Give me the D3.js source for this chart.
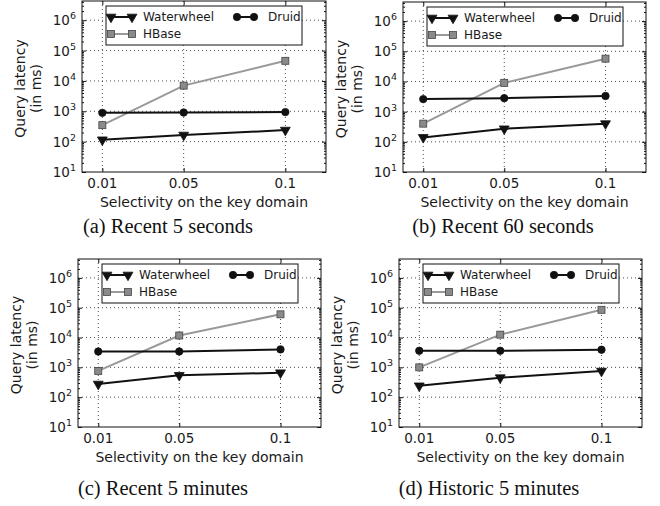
<!DOCTYPE html>
<html>
<head>
<meta charset="utf-8">
<script src="https://cdn.jsdelivr.net/npm/d3@7"></script>
<style>
  body { margin: 0; background: #fff; }
  svg text { font-family: "DejaVu Sans", sans-serif; fill: #1a1a1a; }
  .caption { font-family: "Liberation Serif", "Times New Roman", serif; font-size: 20.5px; fill: #111; }
</style>
</head>
<body>
<div id="chart"></div>
<script>
// data
var selectivity = [0.01, 0.05, 0.1];
var xTickLabels = ['0.01', '0.05', '0.1'];
var yExponents = [1, 2, 3, 4, 5, 6];
var seriesNames = ['Waterwheel', 'HBase', 'Druid'];
var captions = ['(a) Recent 5 seconds', '(b) Recent 60 seconds', '(c) Recent 5 minutes', '(d) Historic 5 minutes'];

var waterwheelRecent5s = [115, 165, 240];
var hbaseRecent5s = [350, 7000, 46000];
var druidRecent5s = [890, 910, 940];

var waterwheelRecent60s = [140, 270, 400];
var hbaseRecent60s = [400, 9000, 57000];
var druidRecent60s = [2600, 2800, 3300];

var waterwheelRecent5m = [275, 540, 660];
var hbaseRecent5m = [760, 11700, 60000];
var druidRecent5m = [3400, 3400, 4000];

var waterwheelHistoric5m = [240, 450, 750];
var hbaseHistoric5m = [1000, 12500, 85000];
var druidHistoric5m = [3600, 3600, 3900];

// layout of the four sub-plots
var panels = [
    {left: 82, top: 1, right: 326, bottom: 172, capX: 168, capY: 233, series: [waterwheelRecent5s, hbaseRecent5s, druidRecent5s]},
    {left: 403, top: 2, right: 646, bottom: 172, capX: 503, capY: 233, series: [waterwheelRecent60s, hbaseRecent60s, druidRecent60s]},
    {left: 78, top: 259, right: 321, bottom: 427, capX: 163, capY: 495, series: [waterwheelRecent5m, hbaseRecent5m, druidRecent5m]},
    {left: 399, top: 259, right: 642, bottom: 427, capX: 489, capY: 495, series: [waterwheelHistoric5m, hbaseHistoric5m, druidHistoric5m]}
];

var styles = {
    Waterwheel: {line: '#111', marker: 'tri', fill: '#111', stroke: '#111'},
    HBase: {line: '#999', marker: 'square', fill: '#8a8a8a', stroke: '#444'},
    Druid: {line: '#111', marker: 'circle', fill: '#111', stroke: '#111'}
};

var svg = d3.select('#chart')
    .append('svg')
    .attr('width', 660)
    .attr('height', 506);

function drawMarker(g, kind, x, y, st) {
    if (kind === 'tri') {
        g.append('path')
            .attr('d', d3.symbol().type(d3.symbolTriangle).size(42))
            .attr('transform', 'translate(' + x + ',' + y + ') rotate(180)')
            .attr('fill', st.fill).attr('stroke', st.stroke).attr('stroke-width', 0.8);
    } else if (kind === 'square') {
        g.append('rect')
            .attr('x', x - 3.5).attr('y', y - 3.5)
            .attr('width', 7).attr('height', 7)
            .attr('fill', st.fill).attr('stroke', st.stroke).attr('stroke-width', 0.8);
    } else {
        g.append('circle')
            .attr('cx', x).attr('cy', y).attr('r', 3.7)
            .attr('fill', st.fill).attr('stroke', st.stroke).attr('stroke-width', 0.8);
    }
}

var majorTicks = yExponents.map(e => Math.pow(10, e));
var minorTicks = [];
yExponents.forEach(function(e) {
    for (var k = 2; k <= 9; k++) minorTicks.push(k * Math.pow(10, e));
});

panels.forEach(function(p, i) {
    var w = p.right - p.left;
    var h = p.bottom - p.top;
    var g = svg.append('g').attr('transform', `translate(${p.left},${p.top})`);

    var x = d3.scaleLinear().domain([0, 0.12]).range([0, w]);
    var y = d3.scaleLog().domain([10, 4.3e6]).range([h, 0]);
    var minorIn = minorTicks.filter(v => v < 4.3e6);

    // grid
    g.append('g').selectAll('line').data(selectivity).enter().append('line')
        .attr('x1', d => x(d)).attr('x2', d => x(d)).attr('y1', 0).attr('y2', h)
        .attr('stroke', '#222').attr('stroke-width', 0.8).attr('stroke-dasharray', '1,3');
    g.append('g').selectAll('line').data(majorTicks.slice(1)).enter().append('line')
        .attr('x1', 0).attr('x2', w).attr('y1', d => y(d)).attr('y2', d => y(d))
        .attr('stroke', '#222').attr('stroke-width', 0.8).attr('stroke-dasharray', '1,3');

    // ticks (inward)
    var tickStyle = function(sel) {
        sel.select('.domain').remove();
        sel.selectAll('line').attr('stroke', '#111');
        sel.selectAll('text').remove();
    };
    g.append('g').call(d3.axisLeft(y).tickValues(majorTicks).tickSize(-4)).call(tickStyle);
    g.append('g').call(d3.axisLeft(y).tickValues(minorIn).tickSize(-2)).call(tickStyle);
    g.append('g').attr('transform', `translate(${w},0)`).call(d3.axisRight(y).tickValues(majorTicks).tickSize(-4)).call(tickStyle);
    g.append('g').attr('transform', `translate(${w},0)`).call(d3.axisRight(y).tickValues(minorIn).tickSize(-2)).call(tickStyle);
    g.append('g').attr('transform', `translate(0,${h})`).call(d3.axisBottom(x).tickValues(selectivity).tickSize(-4)).call(tickStyle);
    g.append('g').call(d3.axisTop(x).tickValues(selectivity).tickSize(-4)).call(tickStyle);

    // y tick labels 10^n
    yExponents.forEach(function(e) {
        var t = g.append('text')
            .attr('x', -6).attr('y', y(Math.pow(10, e)) + 5)
            .attr('text-anchor', 'end')
            .style('font-size', '13.5px');
        t.append('tspan').text('10');
        t.append('tspan').attr('dy', -6).style('font-size', '9.5px').text(e);
    });

    // x tick labels
    g.selectAll('.xlab').data(selectivity).enter().append('text')
        .attr('class', 'xlab')
        .attr('x', d => x(d)).attr('y', h + 16)
        .attr('text-anchor', 'middle')
        .style('font-size', '13.5px')
        .text((d, j) => xTickLabels[j]);

    // axis titles
    g.append('text')
        .attr('x', w / 2).attr('y', h + 35)
        .attr('text-anchor', 'middle')
        .style('font-size', '14px')
        .text('Selectivity on the key domain');
    var yl = g.append('text')
        .attr('transform', `translate(-57,${h / 2 + 2}) rotate(-90)`)
        .attr('text-anchor', 'middle')
        .style('font-size', '14px');
    yl.append('tspan').attr('x', 0).attr('dy', 0).text('Query latency');
    yl.append('tspan').attr('x', 0).attr('dy', 16).text('(in ms)');

    // series lines + markers
    seriesNames.forEach(function(name, s) {
        var st = styles[name];
        var vals = p.series[s];
        var line = d3.line().x((d, j) => x(selectivity[j])).y(d => y(d));
        g.append('path').datum(vals)
            .attr('d', line)
            .attr('fill', 'none')
            .attr('stroke', st.line)
            .attr('stroke-width', 2);
        vals.forEach(function(v, j) {
            drawMarker(g, st.marker, x(selectivity[j]), y(v), st);
        });
    });

    // frame
    g.append('rect').attr('width', w).attr('height', h)
        .attr('fill', 'none').attr('stroke', '#111').attr('stroke-width', 1);

    // legend
    var lg = g.append('g').attr('transform', 'translate(24,5)');
    lg.append('rect').attr('width', 196).attr('height', 39)
        .attr('fill', '#fff').attr('stroke', '#111').attr('stroke-width', 1);
    var entries = [
        {name: 'Waterwheel', hx: 5, tx: 37, ty: 11},
        {name: 'HBase', hx: 5, tx: 37, ty: 28},
        {name: 'Druid', hx: 131, tx: 162, ty: 11}
    ];
    entries.forEach(function(en) {
        var st = styles[en.name];
        var hw = en.name === 'Druid' ? 17 : 21;
        lg.append('line')
            .attr('x1', en.hx).attr('x2', en.hx + hw)
            .attr('y1', en.ty).attr('y2', en.ty)
            .attr('stroke', st.line).attr('stroke-width', 2);
        drawMarker(lg, st.marker, en.hx, en.ty, st);
        drawMarker(lg, st.marker, en.hx + hw, en.ty, st);
        lg.append('text')
            .attr('x', en.tx).attr('y', en.ty + 4)
            .style('font-size', '12px')
            .text(en.name);
    });

    svg.append('text')
        .attr('class', 'caption')
        .attr('x', p.capX).attr('y', p.capY)
        .attr('text-anchor', 'middle')
        .text(captions[i]);
});
</script>
</body>
</html>
